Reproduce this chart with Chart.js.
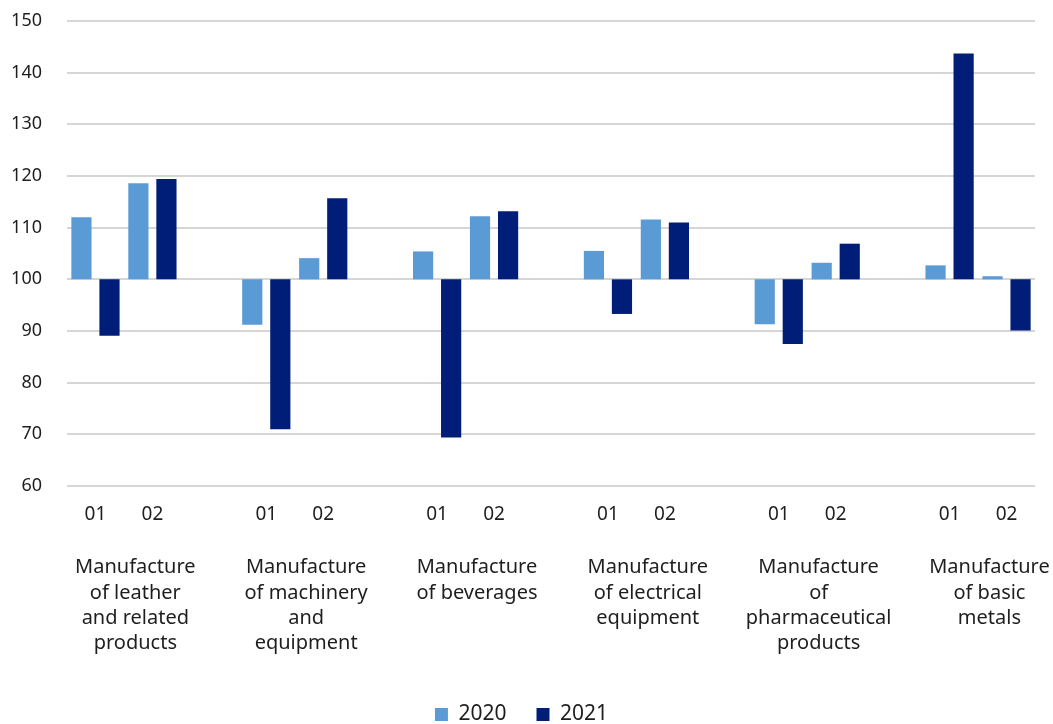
<!DOCTYPE html>
<html>
<head>
<meta charset="utf-8">
<script src="https://cdn.jsdelivr.net/npm/chart.js@4"></script>
<style>
  html, body { margin: 0; padding: 0; background: #fff; }
  #wrap { width: 1053px; height: 724px; }
</style>
</head>
<body>
<div id="wrap"><canvas id="chart"></canvas></div>
<script>
// industries (group labels, already wrapped like the original)
const industries = [
    ['Manufacture', 'of leather', 'and related', 'products'],
    ['Manufacture', 'of machinery', 'and', 'equipment'],
    ['Manufacture', 'of beverages'],
    ['Manufacture', 'of electrical', 'equipment'],
    ['Manufacture', 'of', 'pharmaceutical', 'products'],
    ['Manufacture', 'of basic', 'metals']
];
const quarters = ['01', '02'];

// index values, base 100 (two quarters per industry)
const values2020 = [112.0, 118.6, 91.2, 104.1, 105.4, 112.2, 105.5, 111.6, 91.3, 103.2, 102.7, 100.6];
const values2021 = [89.1, 119.4, 71.0, 115.7, 69.4, 113.2, 93.3, 111.0, 87.5, 106.9, 143.7, 90.1];

const yTicks = [60, 70, 80, 90, 100, 110, 120, 130, 140, 150];
const baseValue = 100;

// expand to a flat category list, with an empty slot between industries
const labels = [];
const bars2020 = [];
const bars2021 = [];
const groupPos = [];
industries.forEach((name, g) => {
    groupPos.push(labels.length + 0.7);
    quarters.forEach((q, i) => {
        labels.push(q);
        bars2020.push([baseValue, values2020[g * 2 + i]]);
        bars2021.push([baseValue, values2021[g * 2 + i]]);
    });
    if (g < industries.length - 1) {
        labels.push('');
        bars2020.push(null);
        bars2021.push(null);
    }
});

const font = "'Noto Sans', 'Open Sans', sans-serif";
const textColor = '#1e1e1e';

// fixed axis sizes so the layout follows the original
function fixSize(size) {
    return axis => {
        if (axis.isHorizontal()) {
            axis.height = size;
            axis.paddingLeft = 0;
            axis.paddingRight = 0;
        } else {
            axis.width = size;
            axis.paddingTop = 0;
            axis.paddingBottom = 0;
        }
    };
}

const ctx = document.getElementById('chart').getContext('2d');
const chart = new Chart(ctx, {
    type: 'bar',
    data: {
        labels: labels,
        datasets: [{
            label: '2020',
            data: bars2020,
            backgroundColor: '#5b9bd5',
            barPercentage: 0.72,
            categoryPercentage: 0.985
        }, {
            label: '2021',
            data: bars2021,
            backgroundColor: '#001e77',
            barPercentage: 0.72,
            categoryPercentage: 0.985
        }]
    },
    options: {
        responsive: true,
        maintainAspectRatio: false,
        animation: false,
        layout: { padding: { top: 21, right: 18, left: 8, bottom: -11 } },
        plugins: {
            tooltip: { enabled: false },
            legend: {
                position: 'bottom',
                labels: {
                    font: { family: font, size: 21 },
                    color: textColor,
                    boxWidth: 13,
                    boxHeight: 13,
                    padding: 30
                }
            }
        },
        scales: {
            y: {
                min: yTicks[0],
                max: yTicks[yTicks.length - 1],
                afterBuildTicks: axis => { axis.ticks = yTicks.map(v => ({ value: v })); },
                afterFit: fixSize(59),
                grid: { color: '#d6d6d6', lineWidth: 2, drawTicks: false },
                border: { display: false },
                ticks: {
                    font: { family: font, size: 18 },
                    color: textColor,
                    padding: 25
                }
            },
            x: {
                weight: 0,
                afterFit: fixSize(37),
                grid: { display: false },
                border: { display: false },
                ticks: {
                    font: { family: font, size: 19 },
                    color: textColor,
                    padding: 9,
                    autoSkip: false,
                    maxRotation: 0
                }
            },
            x2: {
                type: 'linear',
                position: 'bottom',
                weight: 1,
                offset: false,
                min: -0.5,
                max: labels.length - 0.5,
                afterBuildTicks: axis => { axis.ticks = groupPos.map(v => ({ value: v })); },
                afterFit: fixSize(151),
                grid: { display: false },
                border: { display: false },
                ticks: {
                    font: { family: font, size: 20, lineHeight: 1.265 },
                    color: textColor,
                    padding: 24,
                    autoSkip: false,
                    maxRotation: 0,
                    callback: (value, index) => industries[index]
                }
            }
        }
    }
});
</script>
</body>
</html>
